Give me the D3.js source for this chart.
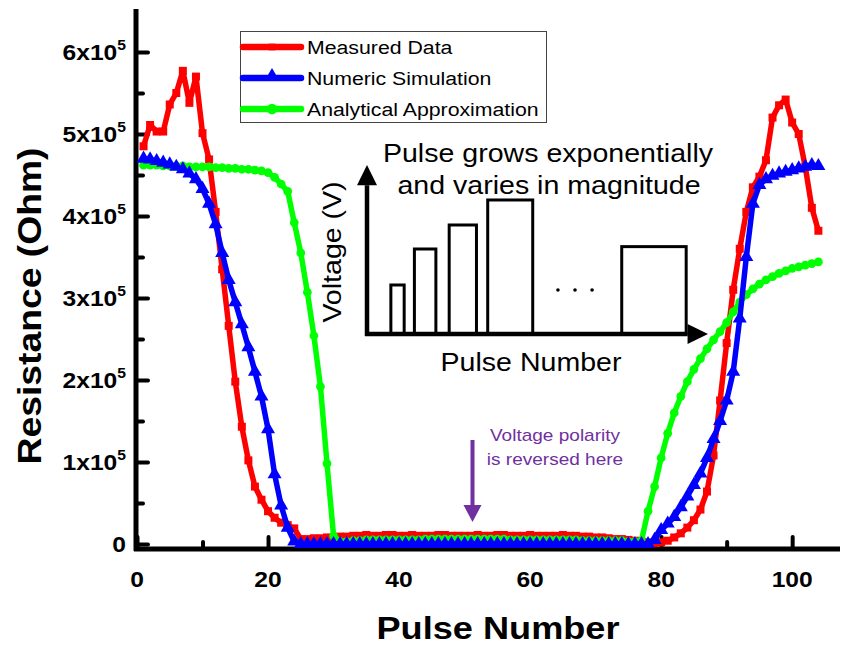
<!DOCTYPE html>
<html>
<head>
<meta charset="utf-8">
<script src="https://cdn.jsdelivr.net/npm/d3@7"></script>
<style>
  body { margin: 0; background: #fff; }
  svg { display: block; }
  text { font-family: "Liberation Sans", Arial, sans-serif; }
</style>
</head>
<body>
<svg id="chart" width="851" height="646"></svg>
<script>
// Resistance readings, in units of 10^5 Ohm, one value per pulse (pulse 1 .. 104)
const pulses = d3.range(1, 105);

const measuredData = [
  4.85, 5.11, 5.03, 5.03, 5.36, 5.50, 5.77, 5.38, 5.70, 5.01,
  4.69, 4.05, 3.35, 2.66, 1.98, 1.43, 1.02, 0.70, 0.54, 0.40,
  0.32, 0.26, 0.23, 0.19, 0.06, 0.06, 0.07, 0.07, 0.08, 0.08,
  0.09, 0.09, 0.10, 0.10, 0.11, 0.10, 0.10, 0.11, 0.11, 0.10,
  0.10, 0.11, 0.10, 0.10, 0.10, 0.11, 0.11, 0.10, 0.10, 0.10,
  0.10, 0.11, 0.10, 0.10, 0.11, 0.11, 0.10, 0.10, 0.10, 0.11,
  0.10, 0.10, 0.10, 0.10, 0.11, 0.10, 0.10, 0.09, 0.09, 0.08,
  0.08, 0.07, 0.06, 0.06, 0.05, 0.04, 0.03, 0.02, 0.01, 0.02,
  0.04, 0.08, 0.13, 0.20, 0.29, 0.42, 0.64, 1.08, 1.75, 2.45,
  3.10, 3.60, 4.05, 4.35, 4.48, 4.68, 5.20, 5.35, 5.42, 5.14,
  5.00, 4.60, 4.10, 3.82
];

const numericSimulation = [
  4.70, 4.69, 4.67, 4.65, 4.63, 4.60, 4.57, 4.52, 4.45, 4.33,
  4.15, 3.90, 3.55, 3.22, 2.95, 2.68, 2.40, 2.10, 1.80, 1.40,
  0.85, 0.47, 0.20, 0.03, 0.00, 0.00, 0.00, 0.00, 0.00, 0.00,
  0.00, 0.00, 0.00, 0.00, 0.00, 0.00, 0.00, 0.00, 0.00, 0.00,
  0.00, 0.00, 0.00, 0.00, 0.00, 0.00, 0.00, 0.00, 0.00, 0.00,
  0.00, 0.00, 0.00, 0.00, 0.00, 0.00, 0.00, 0.00, 0.00, 0.00,
  0.00, 0.00, 0.00, 0.00, 0.00, 0.00, 0.00, 0.00, 0.00, 0.00,
  0.00, 0.00, 0.00, 0.00, 0.00, 0.00, 0.00, 0.00, 0.05, 0.17,
  0.25, 0.33, 0.45, 0.58, 0.72, 0.86, 1.05, 1.28, 1.50, 1.75,
  2.10, 2.75, 3.50, 4.15, 4.38, 4.45, 4.49, 4.52, 4.54, 4.56,
  4.58, 4.60, 4.62, 4.61
];

const analyticalApprox = [
  4.62, 4.62, 4.62, 4.61, 4.61, 4.61, 4.61, 4.60, 4.60, 4.60,
  4.60, 4.59, 4.59, 4.58, 4.58, 4.57, 4.57, 4.56, 4.55, 4.53,
  4.47, 4.39, 4.30, 3.92, 3.55, 3.07, 2.54, 1.92, 0.98, 0.10,
  0.03, 0.03, 0.04, 0.04, 0.05, 0.05, 0.05, 0.05, 0.05, 0.05,
  0.05, 0.05, 0.05, 0.06, 0.06, 0.06, 0.06, 0.06, 0.06, 0.06,
  0.06, 0.06, 0.06, 0.06, 0.06, 0.06, 0.05, 0.05, 0.05, 0.05,
  0.05, 0.05, 0.05, 0.05, 0.05, 0.05, 0.05, 0.04, 0.04, 0.04,
  0.04, 0.04, 0.04, 0.04, 0.03, 0.03, 0.04, 0.40, 0.70, 1.05,
  1.35, 1.60, 1.80, 1.98, 2.13, 2.26, 2.38, 2.49, 2.59, 2.70,
  2.83, 2.95, 3.04, 3.11, 3.17, 3.22, 3.26, 3.30, 3.33, 3.36,
  3.38, 3.40, 3.42, 3.44
];

const seriesNames = ["Measured Data", "Numeric Simulation", "Analytical Approximation"];
const seriesColors = ["#ff0000", "#0000ff", "#00ff00"];

const xMajorTicks = [0, 20, 40, 60, 80, 100];
const xMinorTicks = [10, 30, 50, 70, 90];
const yMajorTicks = [0, 1, 2, 3, 4, 5, 6];
const yMinorTicks = [0.5, 1.5, 2.5, 3.5, 4.5, 5.5];

// Inset schematic: pulse train (arbitrary units)
const insetBarStart  = [7.0, 13.9, 24.1, 35.4, 74.7];
const insetBarWidth  = [3.9, 6.3, 8.0, 13.2, 18.9];
const insetBarHeight = [29, 50.3, 64.5, 79.3, 51.7];
const insetDotsX = [56, 61, 66];
const insetDotsY = 26;

const svg = d3.select("#chart");

const x = d3.scaleLinear().domain([0, 107.3]).range([137, 840]);
const y = d3.scaleLinear().domain([0, 6.5]).range([544, 11]);

// stretched text helper
function addText(parent, str, px, py, o = {}) {
  return parent.append("text")
    .attr("transform", `translate(${px},${py})` + (o.rotate ? ` rotate(${o.rotate})` : "") + ` scale(${o.sx || 1},1)`)
    .attr("text-anchor", o.anchor || "middle")
    .attr("font-size", o.size || 20)
    .attr("font-weight", o.weight || "normal")
    .attr("fill", o.fill || "#000")
    .text(str);
}

// ---- axes ----
const axesG = svg.append("g");

const xAxisMajor = d3.axisBottom(x).tickValues(xMajorTicks).tickSize(-12).tickSizeOuter(0).tickFormat("");
const xAxisMinor = d3.axisBottom(x).tickValues(xMinorTicks).tickSize(-7).tickSizeOuter(0).tickFormat("");
const yAxisMajor = d3.axisLeft(y).tickValues(yMajorTicks).tickSize(-12).tickSizeOuter(0).tickFormat("");
const yAxisMinor = d3.axisLeft(y).tickValues(yMinorTicks).tickSize(-7).tickSizeOuter(0).tickFormat("");

[xAxisMajor, xAxisMinor].forEach(a => {
  axesG.append("g").attr("transform", "translate(0,549)").call(a)
    .call(g => g.select(".domain").remove())
    .call(g => g.selectAll(".tick line").attr("stroke", "#000").attr("stroke-width", 4).attr("stroke-linecap", "round"));
});
[yAxisMajor, yAxisMinor].forEach(a => {
  axesG.append("g").attr("transform", "translate(136,0)").call(a)
    .call(g => g.select(".domain").remove())
    .call(g => g.selectAll(".tick line").attr("stroke", "#000").attr("stroke-width", 4).attr("stroke-linecap", "round"));
});
axesG.append("line").attr("x1", 136).attr("x2", 136).attr("y1", 9).attr("y2", 551)
  .attr("stroke", "#000").attr("stroke-width", 5);
axesG.append("line").attr("x1", 134).attr("x2", 840).attr("y1", 549).attr("y2", 549)
  .attr("stroke", "#000").attr("stroke-width", 5);

// tick labels
xMajorTicks.forEach(v => {
  addText(axesG, String(v), x(v), 587, { size: 22, weight: "bold", sx: 1.12 });
});
yMajorTicks.forEach(v => {
  if (v === 0) {
    addText(axesG, "0", 126, y(0) + 8, { size: 22, weight: "bold", sx: 1.12, anchor: "end" });
  } else {
    const t = axesG.append("text")
      .attr("transform", `translate(126,${y(v) + 8}) scale(1.12,1)`)
      .attr("text-anchor", "end")
      .attr("font-size", 22).attr("font-weight", "bold");
    t.append("tspan").text(`${v}x10`);
    t.append("tspan").attr("dy", -10).attr("font-size", 14).text("5");
  }
});

// axis titles
addText(svg, "Resistance (Ohm)", 41, 306, { size: 33, weight: "bold", sx: 1.13, rotate: -90 });
addText(svg, "Pulse Number", 498, 639, { size: 32, weight: "bold", sx: 1.13 });

// ---- data series ----
const allSeries = [measuredData, numericSimulation, analyticalApprox];
const line = d3.line().x((d, i) => x(pulses[i])).y(d => y(d));
const symbols = [d3.symbolSquare, d3.symbolTriangle, d3.symbolCircle];
const symbolSizes = [64, 85, 60];

const dataG = svg.append("g");
// measured first, then analytical, numeric on top
[0, 2, 1].forEach(k => {
  const vals = allSeries[k];
  dataG.append("path").datum(vals)
    .attr("d", line)
    .attr("fill", "none")
    .attr("stroke", seriesColors[k])
    .attr("stroke-width", 5.5)
    .attr("stroke-linejoin", "round");
  dataG.append("g").selectAll("path").data(vals).join("path")
    .attr("transform", (d, i) => `translate(${x(pulses[i])},${y(d)})`)
    .attr("d", d3.symbol().type(symbols[k]).size(symbolSizes[k]))
    .attr("fill", seriesColors[k]);
});

// ---- legend ----
const legendG = svg.append("g");
legendG.append("rect").attr("x", 240.5).attr("y", 31.5).attr("width", 306).attr("height", 91)
  .attr("fill", "#fff").attr("stroke", "#444").attr("stroke-width", 1);
seriesNames.forEach((name, k) => {
  const ly = 47 + k * 31;
  legendG.append("line").attr("x1", 243).attr("x2", 301).attr("y1", ly).attr("y2", ly)
    .attr("stroke", seriesColors[k]).attr("stroke-width", 6.5).attr("stroke-linecap", "round");
  legendG.append("path").attr("transform", `translate(272,${ly - (k === 1 ? 2 : 0)})`)
    .attr("d", d3.symbol().type(symbols[k]).size(k === 0 ? 45 : 85))
    .attr("fill", seriesColors[k]);
  addText(legendG, name, 307, ly + 7, { size: 19, sx: 1.12, anchor: "start" });
});

// ---- inset schematic ----
const insetG = svg.append("g");
const ix = d3.scaleLinear().domain([0, 100]).range([367, 708]);
const iy = d3.scaleLinear().domain([0, 100]).range([334, 165]);

insetBarStart.forEach((s, i) => {
  insetG.append("rect")
    .attr("x", ix(s)).attr("y", iy(insetBarHeight[i]))
    .attr("width", ix(s + insetBarWidth[i]) - ix(s))
    .attr("height", iy(0) - iy(insetBarHeight[i]))
    .attr("fill", "none").attr("stroke", "#000").attr("stroke-width", 3);
});
insetDotsX.forEach(d => {
  insetG.append("circle").attr("cx", ix(d)).attr("cy", iy(insetDotsY)).attr("r", 1.8).attr("fill", "#000");
});
// inset arrows
insetG.append("line").attr("x1", ix(0)).attr("x2", ix(0)).attr("y1", iy(0) + 2).attr("y2", iy(88))
  .attr("stroke", "#000").attr("stroke-width", 4.5);
insetG.append("path")
  .attr("d", `M${ix(0) - 10},${iy(88)} L${ix(0) + 10},${iy(88)} L${ix(0)},${iy(100)} Z`).attr("fill", "#000");
insetG.append("line").attr("x1", ix(0) - 2).attr("x2", ix(94)).attr("y1", iy(0)).attr("y2", iy(0))
  .attr("stroke", "#000").attr("stroke-width", 4.5);
insetG.append("path")
  .attr("d", `M${ix(94)},${iy(0) - 10} L${ix(94)},${iy(0) + 10} L${ix(100)},${iy(0)} Z`).attr("fill", "#000");

addText(insetG, "Pulse grows exponentially", 548, 162, { size: 25.5, sx: 1.12 });
addText(insetG, "and varies in magnitude", 549, 194, { size: 25.5, sx: 1.12 });
addText(insetG, "Voltage (V)", 341, 252, { size: 25.5, sx: 1.12, rotate: -90 });
addText(insetG, "Pulse Number", 531, 371, { size: 25.5, sx: 1.12 });

// ---- polarity annotation ----
const annG = svg.append("g");
const purple = "#7030a0";
annG.append("line").attr("x1", 472.5).attr("x2", 472.5).attr("y1", 440).attr("y2", 508)
  .attr("stroke", purple).attr("stroke-width", 4);
annG.append("path").attr("d", "M463.5,505 L481.5,505 L472.5,522 Z").attr("fill", purple);
addText(annG, "Voltage polarity", 555, 441, { size: 17, sx: 1.12, fill: purple });
addText(annG, "is reversed here", 555, 465, { size: 17, sx: 1.12, fill: purple });
</script>
</body>
</html>
